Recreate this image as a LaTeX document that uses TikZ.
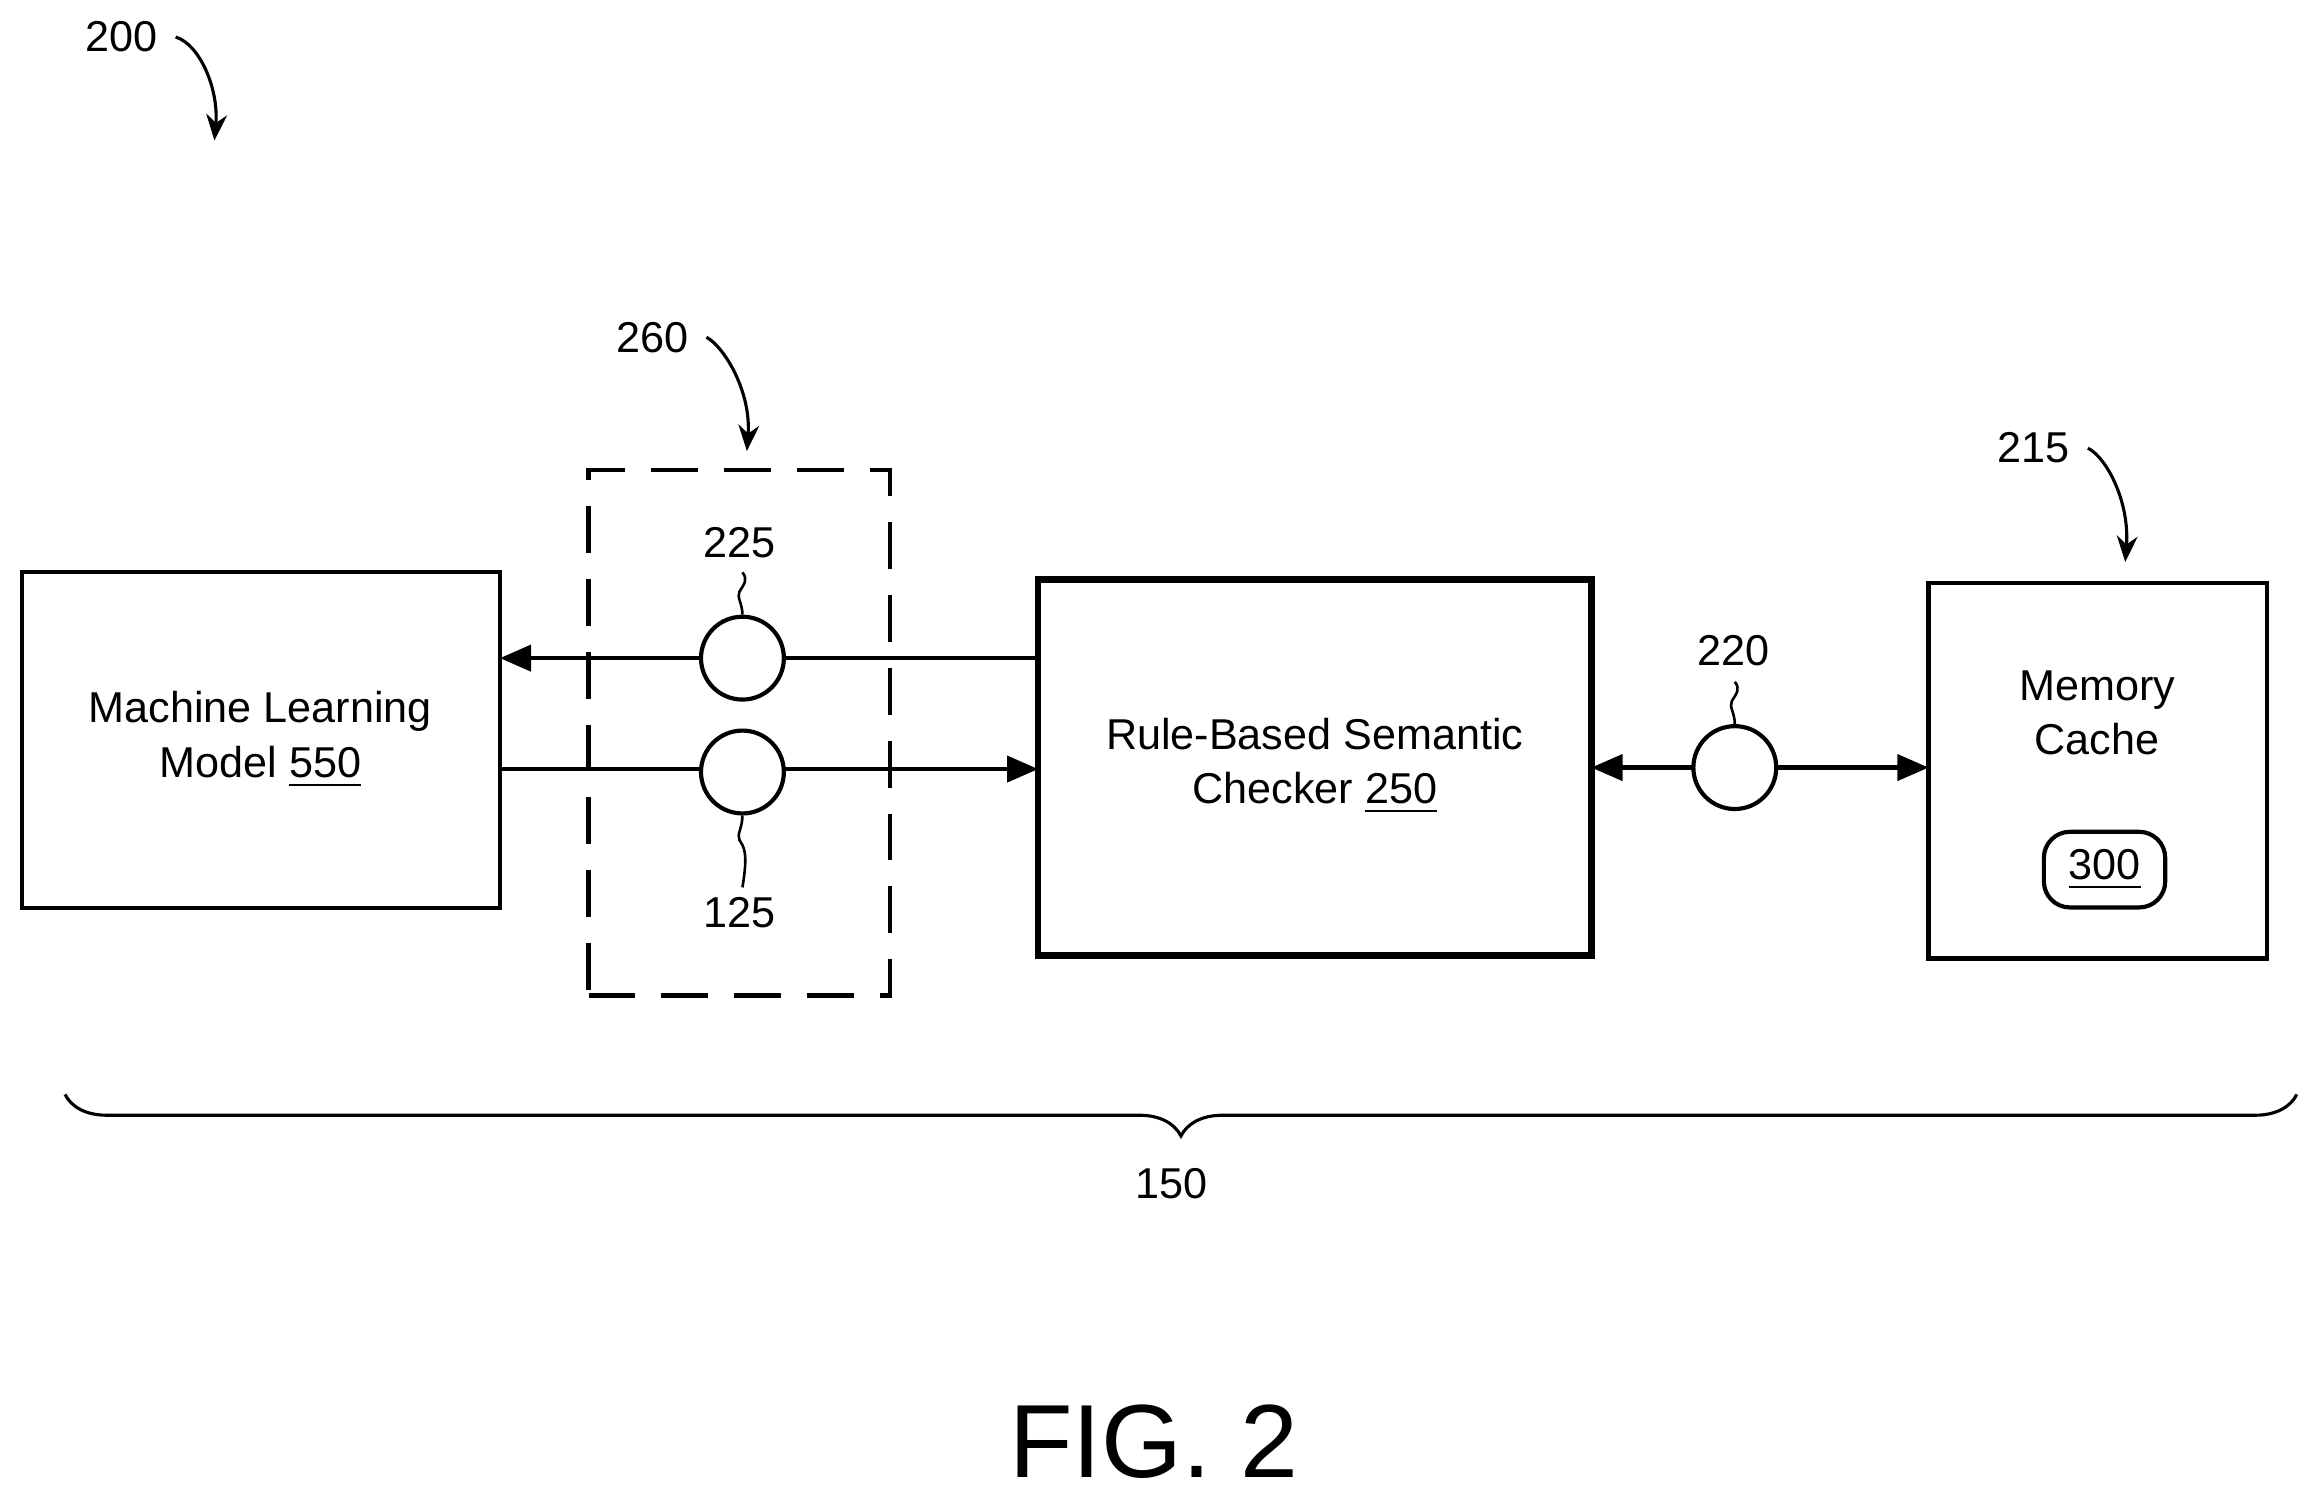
\documentclass[tikz,border=0pt]{standalone}
\usepackage{fontspec}
\setmainfont{Liberation Sans}
\usetikzlibrary{arrows.meta,decorations.pathreplacing}
\begin{document}
\begin{tikzpicture}[x=0.01cm,y=-0.01cm,
  lbl/.style={font=\fontsize{8.3}{10.5}\selectfont,align=center},
  box/.style={draw,line width=0.8pt},
  arr/.style={line width=0.8pt,-{Triangle[length=6pt,width=5pt]}},
  circ/.style={draw,circle,line width=0.8pt,fill=white,minimum size=0.56cm,inner sep=0},
  sq/.style={line width=0.5pt},
  cur/.style={line width=0.6pt,-{Stealth[length=5pt,width=4pt]}}]
\useasboundingbox (0,0) rectangle (1568,1012);
% 200
\node[lbl] (t200) at (82,25) {200};
\coordinate (a200) at (145,95);
\draw[cur] (t200.east) .. controls (135,30) and (148,60) .. (a200);
% ML
\node[box,minimum width=3.23cm,minimum height=2.27cm] (ml) at (176.5,500.5) {};
\node[lbl] (mlt) at (176,500) {Machine Learning\\Model \underline{550}};
% dashed
\node[draw,dash pattern=on 9pt off 5pt,line width=0.8pt,minimum width=2.04cm,minimum height=3.55cm] (dash) at (500,495.5) {};
\node[lbl] (t260) at (441,228) {260};
\coordinate (a260) at (505,305);
\draw[cur] (t260.east) .. controls (490,235) and (508,265) .. (a260);
% checker
\node[draw,line width=1.3pt,minimum width=3.74cm,minimum height=2.54cm] (ch) at (889,519) {};
\node[lbl] at (889,518) {Rule-Based Semantic\\Checker \underline{250}};
% memory
\node[box,minimum width=2.29cm,minimum height=2.54cm] (mem) at (1418.5,521) {};
\node[lbl] at (1418,482) {Memory\\Cache};
\node[draw,rounded corners=5pt,line width=0.8pt,minimum width=0.82cm,minimum height=0.5cm,lbl] (c300) at (1423,588) {\underline{300}};
\node[lbl] (t215) at (1375,303) {215};
\coordinate (a215) at (1437,380);
\draw[cur] (t215.east) .. controls (1425,310) and (1440,340) .. (a215);
% connectors
\coordinate (chU) at (702,445); \coordinate (mlU) at (338,445);
\coordinate (mlL) at (338,520); \coordinate (chL) at (702,520);
\draw[arr] (chU) -- (mlU);
\draw[arr] (mlL) -- (chL);
\node[circ] (c225) at (502,445) {};
\node[circ] (c125) at (502,522) {};
\node[lbl] (t225) at (500,367) {225};
\node[lbl] (t125) at (500,617) {125};
\draw[sq] (c225.north) .. controls (502,408) and (498,404) .. (500,400) .. controls (503,395) and (506,392) .. (502,387);
\draw[sq] (c125.south) .. controls (502,560) and (498,564) .. (500,568) .. controls (503,573) and (506,576) .. (502,600);
\coordinate (chR) at (1076,519); \coordinate (memL) at (1304,519);
\draw[line width=0.8pt,{Triangle[length=6pt,width=5pt]}-{Triangle[length=6pt,width=5pt]}] (chR) -- (memL);
\node[circ] (c220) at (1173,519) {};
\node[lbl] (t220) at (1172,440) {220};
\draw[sq] (c220.north) .. controls (1173,482) and (1169,478) .. (1171,474) .. controls (1174,469) and (1177,466) .. (1173,461);
% brace
\coordinate (bl) at (44,740); \coordinate (br) at (1553,740);
\draw[line width=0.6pt,decorate,decoration={brace,amplitude=8pt,mirror}] (bl) -- (br);
\node[lbl] (t150) at (792,800) {150};
\node[font=\fontsize{20}{24}\selectfont] (fig) at (780,975) {FIG. 2};
\end{tikzpicture}
\end{document}
